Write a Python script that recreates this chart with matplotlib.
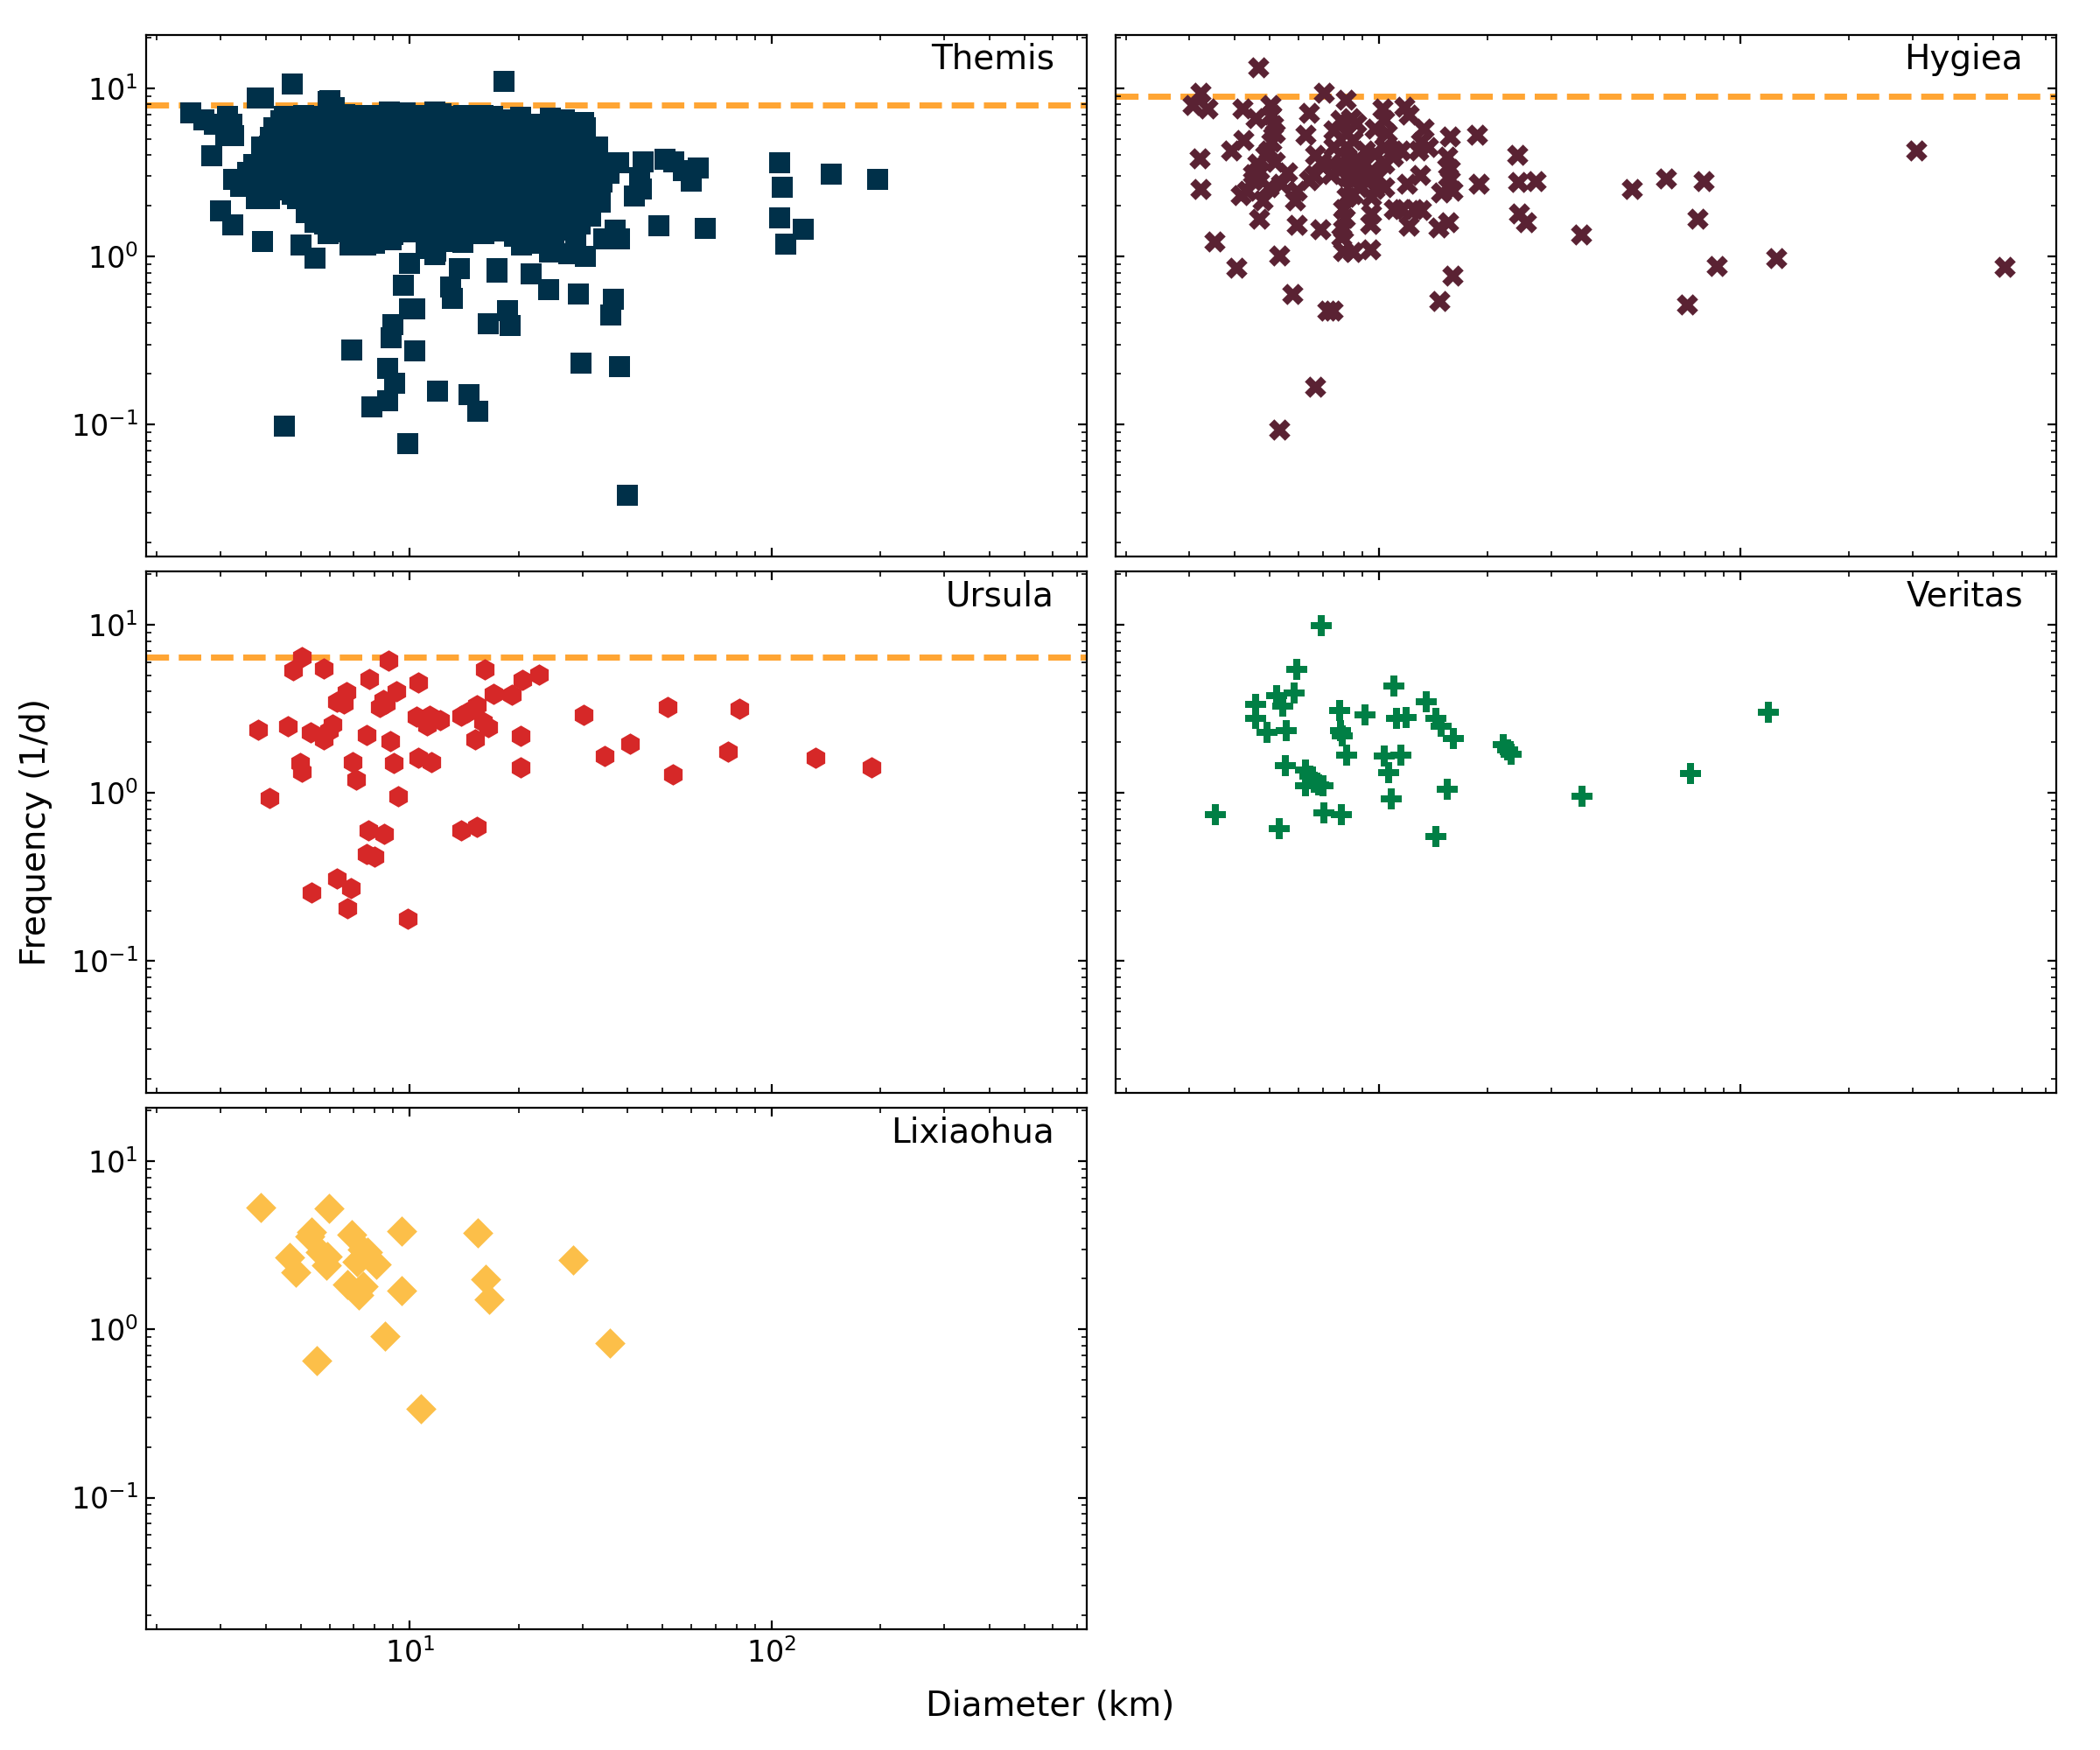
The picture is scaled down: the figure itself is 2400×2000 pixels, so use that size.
import matplotlib
matplotlib.use("Agg")
import matplotlib.pyplot as plt

# (diameter km, frequency 1/d)
themis_sparse = [
    (2.48, 7.1), (2.70, 6.5), (2.88, 6.1), (3.13, 6.8), (3.22, 6.1), (3.25, 5.2), (3.10, 5.2), (2.83, 3.95),
    (3.57, 3.17), (3.25, 2.87), (3.40, 2.6), (3.77, 2.21), (3.95, 2.3), (4.12, 5.12), (4.10, 4.54),
    (4.50, 6.77), (4.76, 6.14), (4.38, 3.73), (4.30, 2.70), (4.72, 2.35), (5.17, 1.82), (5.47, 1.6),
    (5.95, 1.37), (5.68, 1.89),
    (6.83, 1.17), (7.57, 1.17), (7.71, 1.37), (8.78, 1.30), (11.07, 1.12), (11.8, 1.08), (11.7, 1.37),
    (10.5, 1.46), (14.0, 1.21), (16.05, 1.37), (20.4, 1.17), (24.4, 1.06), (27.5, 1.04), (30.5, 1.0),
    (34.3, 1.27), (38.1, 1.27), (37.0, 1.43), (31.6, 1.74), (33.7, 2.1),
    (43.3, 2.93), (33.1, 3.7), (30.2, 6.27), (29.9, 5.4), (26.8, 6.5), (23.7, 6.0), (19.7, 6.27),
    (17.9, 6.5), (15.9, 6.9), (13.3, 6.77), (12.2, 7.05), (11.07, 6.9), (10.3, 6.77), (8.78, 7.2),
    (7.64, 6.77), (7.09, 6.9), (5.68, 6.77), (5.47, 6.51), (6.0, 8.44), (6.17, 7.64),
    (4.50, 0.0975), (9.86, 0.0773), (40.0, 0.0378), (4.73, 10.56), (18.2, 11.0), (3.79, 8.74),
    (3.94, 8.74), (5.96, 8.32), (6.93, 0.277), (10.3, 0.273), (8.70, 0.217), (9.08, 0.177),
    (8.68, 0.138), (7.85, 0.128), (11.96, 0.158), (14.6, 0.150), (15.45, 0.120), (29.8, 0.233),
    (38.0, 0.221), (8.9, 0.330), (9.0, 0.392), (9.97, 0.485), (10.3, 0.485), (9.6, 0.677),
    (12.95, 0.66), (13.1, 0.564), (16.5, 0.396), (18.6, 0.478), (18.9, 0.388), (17.4, 0.847),
    (17.4, 0.81), (13.75, 0.85), (21.7, 0.785), (24.2, 0.638), (29.3, 0.598), (36.6, 0.553),
    (35.9, 0.449), (10.0, 0.912), (11.7, 1.03), (5.46, 0.98), (3.91, 1.23), (4.99, 1.17),
    (3.0, 1.87), (3.24, 1.54), (48.9, 1.52), (65.6, 1.46), (37.7, 3.61), (44.1, 3.66), (50.8, 3.76),
    (53.8, 3.66), (57.0, 3.24), (60.0, 2.79), (41.7, 2.29), (43.7, 2.52), (62.8, 3.37),
    (105.5, 3.6), (107, 2.59), (105, 1.69), (109.5, 1.18), (122.7, 1.45), (146, 3.07), (197, 2.86),
    # ragged top of the cloud
    (4.4, 6.4), (5.1, 6.9), (5.9, 6.3), (6.6, 7.0), (7.3, 6.5), (8.1, 6.9), (8.8, 6.2), (9.7, 7.1),
    (10.6, 6.6), (11.7, 7.2), (12.7, 6.4), (14.1, 6.9), (15.3, 6.3), (16.9, 6.8), (18.5, 6.2),
    (20.3, 6.7), (22.4, 6.1), (24.5, 6.6), (27.2, 6.2),
    # ragged bottom of the cloud
    (6.6, 1.40), (7.3, 1.33), (8.2, 1.42), (9.0, 1.35), (9.9, 1.40), (12.4, 1.33), (13.6, 1.42),
    (14.9, 1.36), (17.3, 1.41), (19.5, 1.32), (21.5, 1.40), (23.8, 1.35), (26.0, 1.43), (28.8, 1.34),
    (7.0, 1.24), (8.0, 1.20), (8.9, 1.25), (12.8, 1.22), (20.5, 1.25), (22.8, 1.19), (25.0, 1.23),
]

# dense core of the Themis cloud, one list of diameters per frequency level
themis_core = {
    5.8: [4.2, 4.7, 5.2, 5.8, 6.3, 7.0, 7.6, 8.4, 9.2, 10.2, 11.1, 12.3, 13.3, 14.7, 16.0, 17.8,
          19.3, 21.4, 23.3, 25.7, 28.0, 30.5],
    5.05: [4.3, 4.9, 5.5, 6.1, 6.7, 7.4, 8.1, 8.9, 9.7, 10.6, 11.6, 12.7, 13.9, 15.2, 16.7, 18.3,
           20.1, 22.0, 24.1, 26.5, 29.0],
    4.45: [3.9, 4.5, 5.0, 5.6, 6.2, 6.9, 7.6, 8.4, 9.2, 10.1, 11.0, 12.1, 13.3, 14.6, 16.0, 17.6,
           19.3, 21.2, 23.2, 25.4, 27.9, 30.6, 33.0],
    3.95: [4.2, 4.8, 5.3, 5.9, 6.5, 7.2, 7.9, 8.7, 9.6, 10.5, 11.5, 12.6, 13.9, 15.3, 16.8, 18.4,
           20.2, 22.2, 24.4, 26.8, 29.4, 32.0],
    3.5: [3.7, 4.4, 5.0, 5.6, 6.2, 6.8, 7.5, 8.3, 9.1, 10.0, 11.0, 12.1, 13.3, 14.6, 16.0, 17.6,
          19.3, 21.2, 23.3, 25.6, 28.0, 30.8, 34.5],
    3.12: [4.0, 4.6, 5.2, 5.8, 6.5, 7.1, 7.9, 8.7, 9.5, 10.5, 11.5, 12.7, 13.9, 15.3, 16.8, 18.4,
           20.2, 22.2, 24.4, 26.8, 29.5, 32.3, 35.5],
    2.78: [3.6, 4.3, 4.9, 5.5, 6.1, 6.8, 7.5, 8.3, 9.1, 10.0, 11.0, 12.1, 13.3, 14.6, 16.0, 17.6,
           19.3, 21.2, 23.3, 25.5, 28.0, 30.7, 34.0],
    2.47: [3.8, 4.5, 5.2, 5.8, 6.4, 7.1, 7.8, 8.6, 9.5, 10.4, 11.5, 12.6, 13.9, 15.2, 16.7, 18.4,
           20.2, 22.2, 24.3, 26.7, 29.3, 32.2],
    2.2: [4.1, 4.9, 5.5, 6.1, 6.8, 7.5, 8.3, 9.1, 10.0, 11.0, 12.1, 13.3, 14.6, 16.0, 17.6, 19.3,
          21.2, 23.3, 25.5, 28.0, 30.7],
    1.96: [5.2, 5.8, 6.4, 7.1, 7.8, 8.6, 9.5, 10.4, 11.5, 12.6, 13.9, 15.2, 16.7, 18.4, 20.2, 22.2,
           24.3, 26.7, 29.3],
    1.74: [5.5, 6.1, 6.8, 7.5, 8.3, 9.1, 10.0, 11.0, 12.1, 13.3, 14.6, 16.0, 17.6, 19.3, 21.2, 23.3,
           25.5, 28.0],
    1.55: [5.8, 6.4, 7.1, 7.8, 8.6, 9.5, 10.4, 11.5, 12.6, 13.9, 15.2, 16.7, 19.0, 20.8, 22.5, 24.6,
           27.0, 29.6],
}

hygiea = [
    (4.65, 13.3), (3.22, 9.42), (3.06, 7.95), (3.37, 7.59), (4.20, 7.59), (4.58, 6.62), (5.01, 7.95),
    (5.06, 6.92), (5.12, 6.03), (5.16, 5.38), (5.06, 4.80), (4.96, 4.28),
    (4.23, 4.91), (3.91, 4.28), (3.20, 3.81), (3.21, 2.50), (3.52, 1.23), (4.05, 0.857), (5.30, 1.01),
    (5.78, 0.60), (7.23, 0.477), (7.45, 0.477), (6.68, 0.168), (5.31, 0.0933), (4.67, 1.67), (5.93, 1.54),
    (6.91, 1.45), (7.99, 1.45), (7.87, 1.30), (7.99, 1.08), (8.48, 1.06), (9.46, 1.10), (6.42, 7.15),
    (6.26, 5.26), (7.05, 9.42), (8.12, 8.52), (7.52, 5.63), (7.83, 6.46), (8.39, 6.62), (8.65, 6.18),
    (8.15, 5.38), (8.48, 4.91), (10.24, 7.59), (10.34, 6.46), (9.74, 5.77), (10.55, 5.38), (11.8, 7.77),
    (12.1, 7.0), (13.3, 5.77), (13.1, 4.80), (13.7, 4.48), (12.9, 4.28), (15.7, 5.14), (18.7, 5.30),
    (24.1, 3.99), (24.3, 2.77), (27.1, 2.79), (24.5, 1.79), (25.5, 1.59), (36.2, 1.35), (18.9, 2.70),
    (16.0, 0.764), (14.7, 0.542), (15.5, 3.90), (15.7, 3.32), (15.6, 2.96), (16.0, 2.46), (14.9, 2.41),
    (15.6, 1.59), (14.6, 1.49), (12.1, 1.52), (11.0, 1.90), (11.6, 1.90), (12.5, 1.92), (13.1, 1.88),
    (12.0, 2.70), (13.0, 3.03), (10.34, 2.58), (9.74, 2.52), (9.36, 2.83), (9.55, 2.25), (9.55, 1.79),
    (9.46, 1.56), (8.15, 2.25), (8.48, 2.35), (7.99, 1.91), (8.07, 1.70), (7.38, 3.56), (7.83, 3.32),
    (8.15, 3.90), (8.82, 3.73), (9.18, 4.28), (9.74, 4.09), (10.34, 4.48), (10.98, 4.28), (7.38, 3.10),
    (8.15, 2.96), (8.82, 3.10), (9.55, 3.25), (8.48, 2.83), (6.68, 3.99), (6.95, 3.64), (9.18, 3.56),
    (8.15, 3.40), (10.34, 3.56), (10.98, 3.90), (9.18, 2.96), (9.90, 2.96), (8.82, 2.58), (7.52, 4.48),
    (8.15, 4.48), (11.5, 4.28), (6.42, 2.83), (6.62, 3.03), (5.59, 3.17), (5.37, 2.70), (5.93, 2.46),
    (5.87, 2.15), (4.67, 3.25), (4.49, 2.83), (4.32, 2.46), (4.15, 2.30), (4.96, 2.58), (4.77, 2.15),
    (5.16, 3.64), (4.86, 3.99), (4.62, 3.56), (4.49, 3.10),
    (50.2, 2.51), (62.3, 2.90), (79.3, 2.80), (76.1, 1.67), (86.1, 0.881), (71.1, 0.517),
    (125.8, 0.975), (306, 4.26), (537, 0.865),
]

ursula = [
    (3.81, 2.37), (4.10, 0.931), (4.61, 2.48), (4.75, 5.35), (5.03, 6.40), (5.78, 5.50), (4.97, 1.50),
    (5.03, 1.33), (5.33, 2.30), (5.78, 2.09), (5.99, 2.35), (6.13, 2.55), (5.35, 0.255), (6.29, 0.309),
    (6.88, 0.270), (6.72, 0.207), (6.29, 3.47), (6.59, 3.39), (6.67, 3.99), (6.96, 1.52), (7.10, 1.20),
    (7.72, 4.73), (7.60, 2.21), (7.69, 0.598), (8.51, 0.571), (7.60, 0.434), (7.99, 0.418), (8.28, 3.24),
    (8.44, 3.55), (8.57, 3.40), (8.74, 6.14), (9.19, 4.02), (8.84, 2.02), (9.05, 1.50), (9.26, 0.952),
    (9.88, 0.179), (10.55, 4.55), (10.43, 2.85), (10.55, 1.62), (11.49, 1.52), (11.14, 2.52),
    (11.36, 2.89), (12.13, 2.70), (13.88, 2.89), (14.43, 3.02), (15.29, 3.31), (15.17, 2.07),
    (15.95, 2.63), (16.5, 2.46), (16.13, 5.45), (17.0, 3.89), (19.1, 3.82), (20.5, 4.68), (22.7, 5.06),
    (20.3, 2.17), (20.3, 1.42), (13.9, 0.598), (15.3, 0.627), (30.2, 2.91), (34.6, 1.66), (40.7, 1.95),
    (51.7, 3.24), (53.5, 1.29), (76.0, 1.76), (81.5, 3.17), (132, 1.61), (189, 1.42),
]

veritas = [
    (6.93, 9.9), (5.94, 5.45), (5.83, 3.93), (5.23, 3.77), (5.42, 3.28), (4.57, 3.36), (4.57, 2.76),
    (4.92, 2.30), (5.54, 2.35), (7.79, 3.09), (7.84, 2.35), (7.93, 2.19), (9.19, 2.91), (8.15, 1.68),
    (11.01, 4.33), (11.18, 2.78), (11.9, 2.82), (13.56, 3.50), (14.37, 2.78), (14.87, 2.49),
    (16.13, 2.10), (10.35, 1.65), (11.49, 1.68), (10.68, 1.32), (10.84, 0.923), (15.47, 1.05),
    (14.43, 0.551), (22.1, 1.94), (22.7, 1.81), (23.2, 1.69), (36.4, 0.952), (72.9, 1.31),
    (119.4, 3.02), (5.52, 1.45), (6.29, 1.37), (6.44, 1.26), (6.62, 1.16), (6.83, 1.12), (6.27, 1.10),
    (7.01, 1.10), (3.53, 0.740), (5.31, 0.61), (7.04, 0.760), (7.90, 0.740),
]

lixiaohua = [
    (3.87, 5.30), (5.99, 5.22), (5.35, 3.79), (5.30, 3.58), (6.93, 3.64), (9.51, 3.83), (15.4, 3.73),
    (4.66, 2.68), (4.84, 2.18), (5.67, 2.87), (5.93, 2.72), (5.87, 2.40), (7.40, 2.99), (7.64, 2.87),
    (7.15, 2.51), (8.06, 2.44), (28.3, 2.58), (16.2, 1.99), (16.6, 1.51), (9.51, 1.70), (6.72, 1.85),
    (7.21, 1.61), (7.43, 1.80), (8.54, 0.908), (5.52, 0.652), (35.8, 0.827), (10.72, 0.338),
]

themis = themis_sparse + [(d, f) for f, row in themis_core.items() for d in row]

names = ["Themis", "Hygiea", "Ursula", "Veritas", "Lixiaohua"]
data = [themis, hygiea, ursula, veritas, lixiaohua]
markers = ["s", "X", "h", "P", "D"]
colors = ["#003049", "#5A2233", "#D62828", "#007F45", "#FCBF49"]
limits = [7.92, 9.0, 6.43, None, None]   # dashed reference levels
line_color = "#FFA533"

fig, axes = plt.subplots(3, 2, figsize=(12, 10), dpi=200, sharex=True, sharey=True)
fig.subplots_adjust(left=0.0697, right=0.979, top=0.980, bottom=0.069,
                    wspace=0.030, hspace=0.0294)

for ax, name, pts, m, c, lim in zip(axes.flat, names, data, markers, colors, limits):
    d, f = zip(*pts)
    ax.scatter(d, f, marker=m, color=c, s=78, linewidths=0, zorder=2)
    if lim is not None:
        ax.axhline(lim, color=line_color, ls="--", lw=2.5, zorder=1)
    ax.text(0.965, 0.985, name, transform=ax.transAxes, ha="right", va="top", fontsize=14)
    ax.set_xscale("log")
    ax.set_yscale("log")
    ax.tick_params(which="both", direction="in", top=True, right=True, labelsize=12)

axes[0, 0].set_xlim(1.87, 745)
axes[0, 0].set_ylim(0.0165, 20.7)
axes[2, 1].remove()

fig.text(0.5, 0.0155, "Diameter (km)", ha="center", va="bottom", fontsize=14)
fig.text(0.017, 0.5245, "Frequency (1/d)", ha="center", va="center", rotation=90, fontsize=14)

fig.savefig("out.png", dpi=200)
